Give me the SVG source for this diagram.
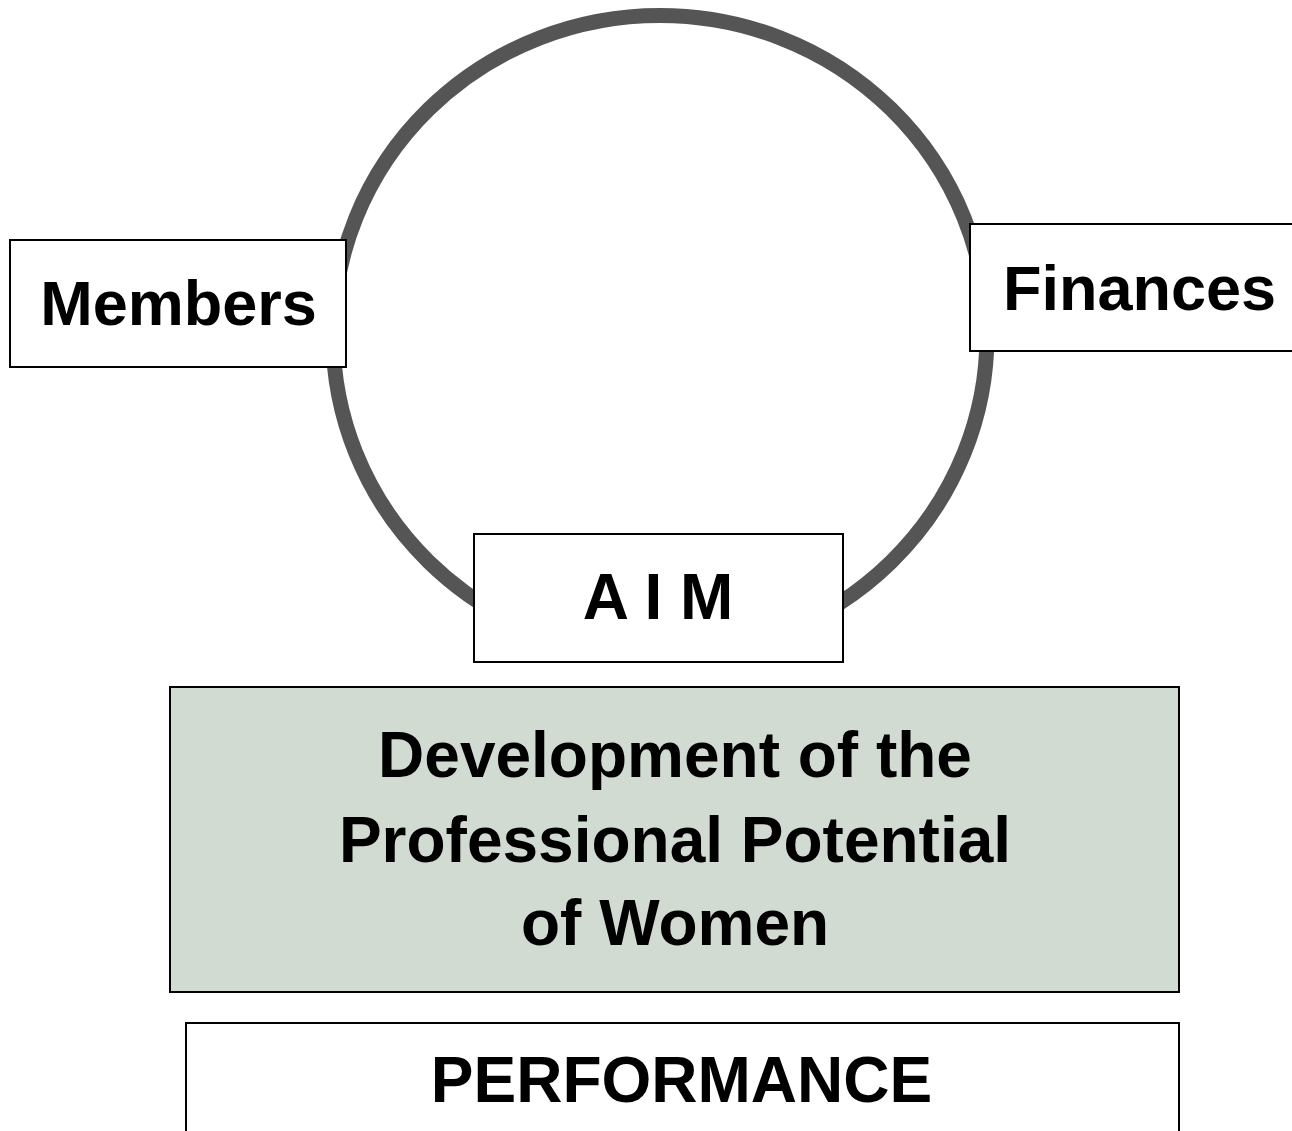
<svg xmlns="http://www.w3.org/2000/svg" width="1292" height="1131" viewBox="0 0 1292 1131">
<style>
.box{fill:#ffffff;stroke:#000000;stroke-width:2}
.green{fill:#D1DBD2;stroke:#000000;stroke-width:2}
.ring{fill:none;stroke:#555555;stroke-width:15}
.t{font-family:"Liberation Sans",Arial,sans-serif;font-weight:bold;font-size:64px;fill:#000000}
.s{font-size:63px}
.c{text-anchor:middle}
</style>
<rect width="1292" height="1131" fill="#ffffff"/>
<g id="cycle">
<ellipse class="ring" cx="660" cy="335.5" rx="327" ry="320"/>
</g>
<g id="connectors"></g>
<g id="members">
<rect class="box" x="10" y="240" width="336" height="127"/>
<text class="t s c" x="178.5" y="325">Members</text>
</g>
<g id="finances">
<rect class="box" x="970" y="224" width="330" height="127"/>
<text class="t s" x="1003" y="310">Finances</text>
</g>
<g id="aim">
<rect class="box" x="474" y="534" width="369" height="128"/>
<text class="t c" x="658" y="619">A I M</text>
</g>
<g id="development">
<rect class="green" x="170" y="687" width="1009" height="305"/>
<text class="t c" x="675" y="777">Development of the</text>
<text class="t c" x="675" y="862">Professional Potential</text>
<text class="t c" x="675" y="945">of Women</text>
</g>
<g id="performance">
<rect class="box" x="186" y="1023" width="993" height="130"/>
<text class="t c" x="681.5" y="1102">PERFORMANCE</text>
</g>
</svg>
